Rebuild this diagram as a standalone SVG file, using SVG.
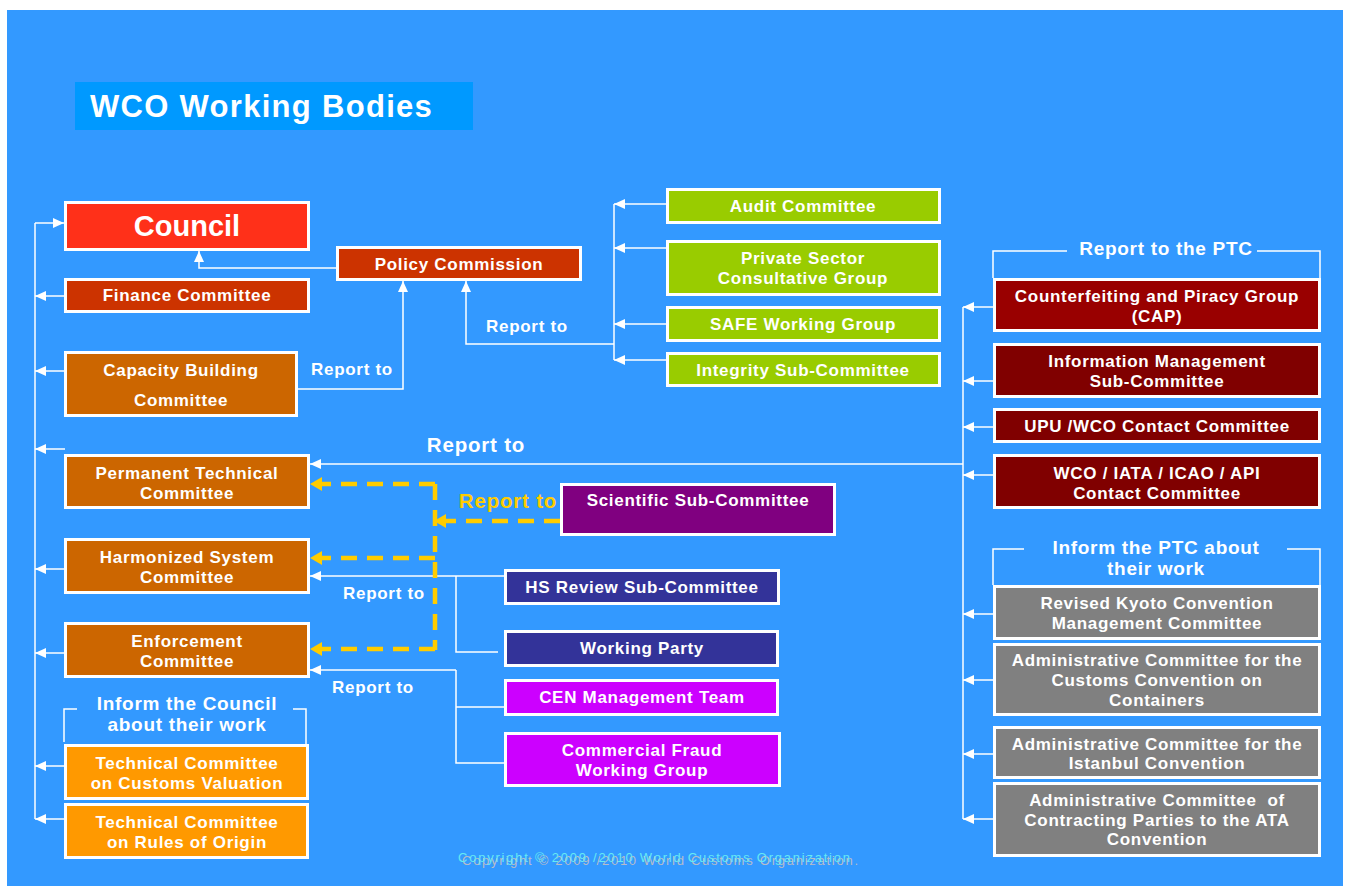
<svg xmlns="http://www.w3.org/2000/svg" width="1350" height="888" viewBox="0 0 1350 888">
<defs>
<style>
.box{stroke:#fff;stroke-width:3}
.t{font-family:"Liberation Sans",Arial,sans-serif;font-weight:bold;fill:#fff;text-anchor:middle;font-size:17px;letter-spacing:0.7px}
.h{font-size:19px}
.big{font-size:20.5px;letter-spacing:0.8px}
.c{stroke:#fff;stroke-width:1.5;fill:none}
.ca{stroke:#fff;stroke-width:1.5;fill:none;marker-end:url(#wa)}
.y{stroke:#FFCC00;stroke-width:4.5;stroke-dasharray:16 10;fill:none}
.ya{stroke:#FFCC00;stroke-width:4.5;stroke-dasharray:16 10;fill:none;marker-end:url(#ya)}
</style>
<marker id="wa" markerUnits="userSpaceOnUse" markerWidth="12" markerHeight="10" refX="11" refY="5" orient="auto"><path d="M0,0 L11,5 L0,10 z" fill="#fff"/></marker>
<marker id="ya" markerUnits="userSpaceOnUse" markerWidth="14" markerHeight="14" refX="12" refY="7" orient="auto"><path d="M0,0 L12,7 L0,14 z" fill="#FFCC00"/></marker>
</defs>
<rect width="1350" height="888" fill="#fff"/>
<rect x="7" y="10" width="1336" height="876" fill="#3399FF"/>
<g id="title">
<rect x="75" y="82" width="398" height="48" fill="#0099FF"/>
<text x="90" y="117" style="font-family:'Liberation Sans',Arial,sans-serif;font-weight:bold;font-size:31px;letter-spacing:1.3px;fill:#fff">WCO Working Bodies</text>
</g>
<g id="connectors">
<path class="c" d="M35,223 V819"/>
<path class="ca" d="M35,223 H64"/>
<path class="ca" d="M64,296 H35"/>
<path class="ca" d="M64,371 H35"/>
<path class="ca" d="M65,449 H35"/>
<path class="ca" d="M64,569 H35"/>
<path class="ca" d="M64,653 H35"/>
<path class="ca" d="M64,766 H35"/>
<path class="ca" d="M64,819 H35"/>
<path class="ca" d="M336,268 H199 V251"/>
<path class="ca" d="M298,389 H403 V281"/>
<path class="c" d="M614,204 V360"/>
<path class="ca" d="M666,204 H614"/>
<path class="ca" d="M666,248 H614"/>
<path class="ca" d="M666,324 H614"/>
<path class="ca" d="M666,360 H614"/>
<path class="ca" d="M614,344 H466 V281"/>
<path class="c" d="M963,307 V819"/>
<path class="ca" d="M993,307 H963"/>
<path class="ca" d="M993,381 H963"/>
<path class="ca" d="M993,427 H963"/>
<path class="ca" d="M993,475 H963"/>
<path class="ca" d="M993,614 H963"/>
<path class="ca" d="M993,680 H963"/>
<path class="ca" d="M993,754 H963"/>
<path class="ca" d="M993,819 H963"/>
<path class="ca" d="M963,464 H310"/>
<path class="ca" d="M504,576 H310"/>
<path class="c" d="M456,576 V652 H498"/>
<path class="ca" d="M456,670 H310"/>
<path class="c" d="M456,670 V763 H505 M456,707 H504"/>
<path class="c" d="M64,742 V709 H77 M293,709 H306 V744"/>
<path class="c" d="M993,278 V251 H1067 M1257,251 H1320 V278"/>
<path class="c" d="M993,585 V549 H1024 M1287,549 H1320 V585"/>
<path class="ya" d="M560,521 H434"/>
<path class="y" d="M435,484 V650"/>
<path class="ya" d="M435,484 H310"/>
<path class="ya" d="M435,558 H310"/>
<path class="ya" d="M435,649 H310"/>
<text class="t" x="352" y="375">Report to</text>
<text class="t" x="527" y="332">Report to</text>
<text class="t big" x="476" y="452">Report to</text>
<text class="t big" x="508" y="508" style="fill:#FFCC00">Report to</text>
<text class="t" x="384" y="599">Report to</text>
<text class="t" x="373" y="693">Report to</text>
<text class="t h" x="187" y="710">Inform the Council</text>
<text class="t h" x="187" y="731">about their work</text>
<text class="t h" x="1166" y="255">Report to the PTC</text>
<text class="t h" x="1156" y="554">Inform the PTC about</text>
<text class="t h" x="1156" y="575">their work</text>
</g>
<g id="council"><rect class="box" x="65.5" y="202.5" width="243" height="47" fill="#FF3019"/><text class="t" x="187" y="236" style="font-size:29px;letter-spacing:0">Council</text></g>
<g id="policy"><rect class="box" x="337.5" y="247.5" width="243" height="32" fill="#CC3300"/><text class="t" x="459" y="270">Policy Commission</text></g>
<g id="finance"><rect class="box" x="65.5" y="279.5" width="243" height="32" fill="#CC3300"/><text class="t" x="187" y="301">Finance Committee</text></g>
<g id="capacity"><rect class="box" x="65.5" y="352.5" width="231" height="63" fill="#CC6600"/><text class="t" x="181" y="376">Capacity Building</text><text class="t" x="181" y="406">Committee</text></g>
<g id="ptc"><rect class="box" x="65.5" y="455.5" width="243" height="52" fill="#CC6600"/><text class="t" x="187" y="479">Permanent Technical</text><text class="t" x="187" y="499">Committee</text></g>
<g id="hsc"><rect class="box" x="65.5" y="539.5" width="243" height="53" fill="#CC6600"/><text class="t" x="187" y="563">Harmonized System</text><text class="t" x="187" y="583">Committee</text></g>
<g id="enforcement"><rect class="box" x="65.5" y="623.5" width="243" height="53" fill="#CC6600"/><text class="t" x="187" y="647">Enforcement</text><text class="t" x="187" y="667">Committee</text></g>
<g id="tccv"><rect class="box" x="65.5" y="745.5" width="242" height="53" fill="#FF9900"/><text class="t" x="187" y="769">Technical Committee</text><text class="t" x="187" y="789">on Customs Valuation</text></g>
<g id="tcro"><rect class="box" x="65.5" y="804.5" width="242" height="53" fill="#FF9900"/><text class="t" x="187" y="828">Technical Committee</text><text class="t" x="187" y="848">on Rules of Origin</text></g>
<g id="audit"><rect class="box" x="667.5" y="189.5" width="272" height="33" fill="#99CC00"/><text class="t" x="803" y="212">Audit Committee</text></g>
<g id="pscg"><rect class="box" x="667.5" y="241.5" width="272" height="53" fill="#99CC00"/><text class="t" x="803" y="264">Private Sector</text><text class="t" x="803" y="284">Consultative Group</text></g>
<g id="safe"><rect class="box" x="667.5" y="307.5" width="272" height="33" fill="#99CC00"/><text class="t" x="803" y="330">SAFE Working Group</text></g>
<g id="integrity"><rect class="box" x="667.5" y="353.5" width="272" height="32" fill="#99CC00"/><text class="t" x="803" y="376">Integrity Sub-Committee</text></g>
<g id="cap"><rect class="box" x="994.5" y="279.5" width="325" height="51" fill="#990000"/><text class="t" x="1157" y="302">Counterfeiting and Piracy Group</text><text class="t" x="1157" y="322">(CAP)</text></g>
<g id="info"><rect class="box" x="994.5" y="344.5" width="325" height="52" fill="#800000"/><text class="t" x="1157" y="367">Information Management</text><text class="t" x="1157" y="387">Sub-Committee</text></g>
<g id="upu"><rect class="box" x="994.5" y="409.5" width="325" height="32" fill="#800000"/><text class="t" x="1157" y="432">UPU /WCO Contact Committee</text></g>
<g id="iata"><rect class="box" x="994.5" y="455.5" width="325" height="52" fill="#800000"/><text class="t" x="1157" y="479">WCO / IATA / ICAO / API</text><text class="t" x="1157" y="499">Contact Committee</text></g>
<g id="rkc"><rect class="box" x="994.5" y="586.5" width="325" height="52" fill="#808080"/><text class="t" x="1157" y="609">Revised Kyoto Convention</text><text class="t" x="1157" y="629">Management Committee</text></g>
<g id="containers"><rect class="box" x="994.5" y="644.5" width="325" height="70" fill="#808080"/><text class="t" x="1157" y="666">Administrative Committee for the</text><text class="t" x="1157" y="686">Customs Convention on</text><text class="t" x="1157" y="706">Containers</text></g>
<g id="istanbul"><rect class="box" x="994.5" y="727.5" width="325" height="50" fill="#808080"/><text class="t" x="1157" y="750">Administrative Committee for the</text><text class="t" x="1157" y="769">Istanbul Convention</text></g>
<g id="ata"><rect class="box" x="994.5" y="783.5" width="325" height="72" fill="#808080"/><text class="t" x="1157" y="806" xml:space="preserve">Administrative Committee  of</text><text class="t" x="1157" y="826">Contracting Parties to the ATA</text><text class="t" x="1157" y="845">Convention</text></g>
<g id="scientific"><rect class="box" x="561.5" y="484.5" width="273" height="50" fill="#800080"/><text class="t" x="698" y="506">Scientific Sub-Committee</text></g>
<g id="hsreview"><rect class="box" x="505.5" y="570.5" width="273" height="33" fill="#333399"/><text class="t" x="642" y="593">HS Review Sub-Committee</text></g>
<g id="workingparty"><rect class="box" x="505.5" y="631.5" width="272" height="34" fill="#333399"/><text class="t" x="642" y="654">Working Party</text></g>
<g id="cen"><rect class="box" x="505.5" y="680.5" width="272" height="34" fill="#CC00FF"/><text class="t" x="642" y="703">CEN Management Team</text></g>
<g id="cfwg"><rect class="box" x="505.5" y="733.5" width="274" height="52" fill="#CC00FF"/><text class="t" x="642" y="756">Commercial Fraud</text><text class="t" x="642" y="776">Working Group</text></g>
<g id="copyright">
<text x="462" y="865" textLength="396" style="font-family:'Liberation Sans',Arial,sans-serif;font-size:13px;fill:#B8BCC8">Copyright © 2009 /2010 World Customs Organization.</text>
<text x="458" y="862" textLength="392" style="font-family:'Liberation Sans',Arial,sans-serif;font-size:13px;fill:#66E8F4">Copyright © 2009 /2010 World Customs Organization</text>
</g>
</svg>
